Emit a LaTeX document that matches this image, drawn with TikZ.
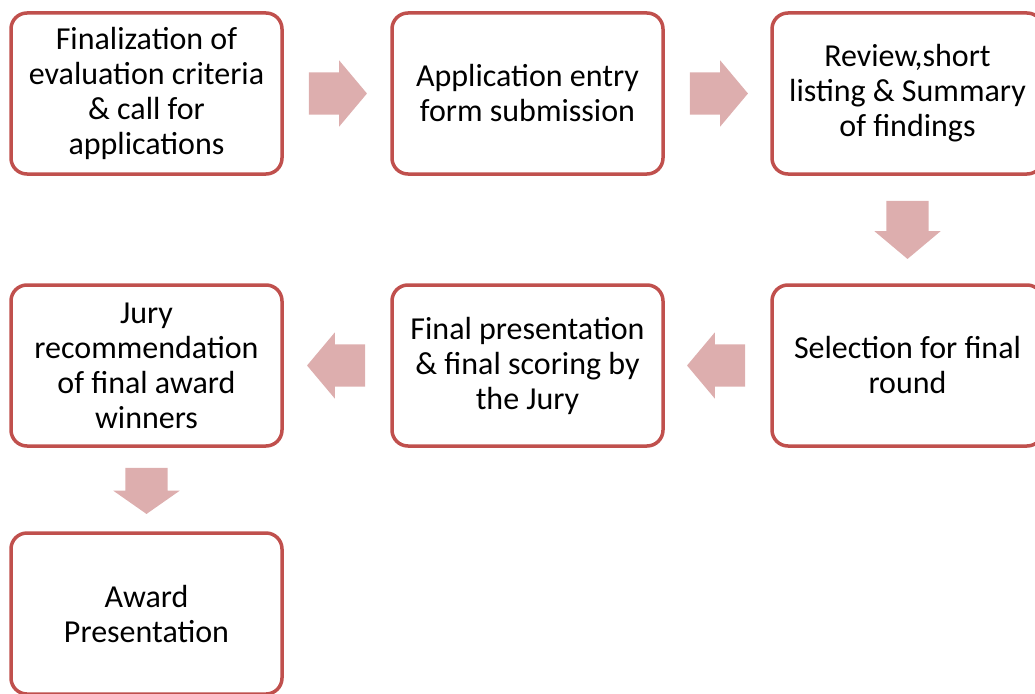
\documentclass[tikz,border=0pt]{standalone}
\usepackage{fontspec}
\setmainfont{Carlito}
\usetikzlibrary{positioning,calc,shapes.arrows}
\definecolor{stageborder}{RGB}{192,80,77}
\definecolor{flowpink}{RGB}{221,174,174}

\begin{document}
\begin{tikzpicture}[
    x=1pt, y=-1pt,
    stage/.style={draw=stageborder, line width=3.5pt, rounded corners=16pt, fill=white,
        minimum width=271pt, minimum height=161pt, inner sep=0pt, align=center,
        font=\fontsize{32}{35}\selectfont},
    flow/.style={single arrow, fill=flowpink, draw=none, inner xsep=0pt, inner ysep=21pt,
        minimum height=58pt,
        single arrow head extend=12pt, single arrow tip angle=100},
    flowdown/.style={flow, shape border rotate=270, inner xsep=21pt, inner ysep=0pt}
]
\useasboundingbox (0,0) rectangle (1035,693);

% Stages, top row left to right
\node[stage] (criteria) at (146.5,93.5) {Finalization of\\evaluation criteria\\\& call for\\applications};
\node[stage] (submission) at (527.5,93.5) {Application entry\\form submission};
\node[stage] (shortlist) at (907.5,93.5) {Review,short\\listing \& Summary\\of findings};

% Second row, right to left
\node[stage] (selection) at (907.5,365.5) {Selection for final\\round};
\node[stage] (finalscore) at (527.5,365.5) {Final presentation\\\& final scoring by\\the Jury};
\node[stage] (recommend) at (146.5,365.5) {Jury\\recommendation\\of final award\\winners};

% Last stage
\node[stage] (award) at (146.5,613.5) {Award\\Presentation};

% Block arrows between the stages
\node[flow, right=25pt of criteria, anchor=tail] (a1) {};
\node[flow, right=25pt of submission, anchor=tail] (a2) {};
\node[flowdown, below=25pt of shortlist, anchor=tail] (a3) {};
\node[flow, shape border rotate=180, left=25pt of selection, anchor=tail] (a4) {};
\node[flow, shape border rotate=180, left=25pt of finalscore, anchor=tail] (a5) {};
\node[flowdown, below=20pt of recommend, anchor=tail, minimum height=46pt,
    single arrow tip angle=110] (a6) {};

\end{tikzpicture}
\end{document}
